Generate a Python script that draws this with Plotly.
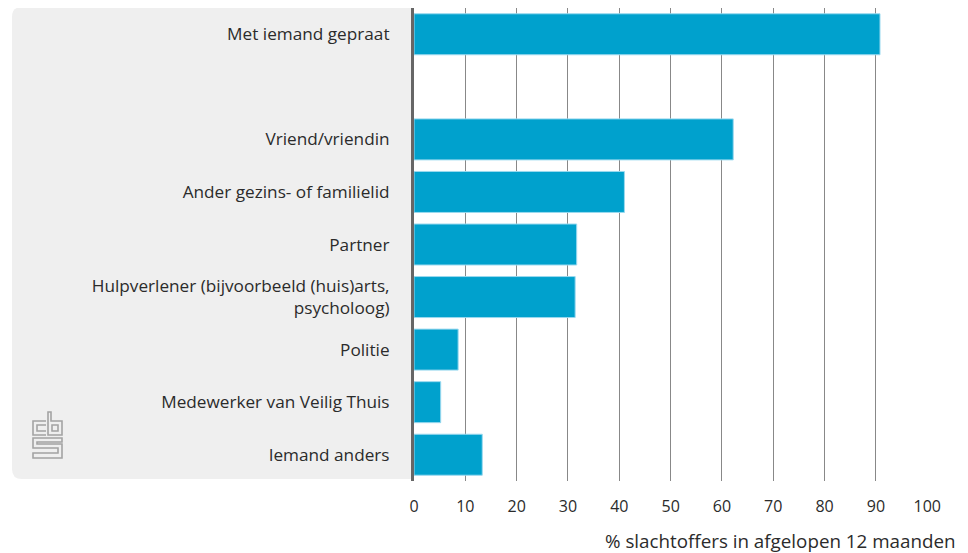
import plotly.graph_objects as go

categories = [
    "Met iemand gepraat",
    " ",
    "Vriend/vriendin",
    "Ander gezins- of familielid",
    "Partner",
    "Hulpverlener (bijvoorbeeld (huis)arts,<br>psycholoog)",
    "Politie",
    "Medewerker van Veilig Thuis",
    "Iemand anders",
]
values = [90.8, None, 62.2, 41.0, 31.7, 31.4, 8.6, 5.2, 13.3]
x_ticks = [0, 10, 20, 30, 40, 50, 60, 70, 80, 90, 100]
x_title = "% slachtoffers in afgelopen 12 maanden"

OFF = 8  # page body margin
W, H = 968 - OFF, 553 - OFF
L, R, T, B = 414 - OFF, 928 - OFF, 8 - OFF, 481 - OFF

def px(x):  # x in page pixels
    return (x - OFF - L) / (R - L)

def py(y):  # y in page pixels
    return (B - (y - OFF)) / (B - T)

FONT = "Open Sans"
TXT = "#2b2b2b"

fig = go.Figure(go.Bar(
    y=categories, x=values, orientation="h",
    marker=dict(color="#00a1cd", line=dict(color="#9bd9ef", width=1)),
    width=0.78, hoverinfo="x+y",
))

shapes = []
r = 10
x0, x1, y0, y1 = 12, 414, 7, 479
panel = (f"M {px(x1)},{py(y0)} L {px(x0 + r)},{py(y0)} "
         f"Q {px(x0)},{py(y0)} {px(x0)},{py(y0 + r)} "
         f"L {px(x0)},{py(y1 - r)} "
         f"Q {px(x0)},{py(y1)} {px(x0 + r)},{py(y1)} "
         f"L {px(x1)},{py(y1)} Z")
shapes.append(dict(type="path", path=panel, xref="paper", yref="paper",
                   fillcolor="#efefef", line=dict(width=0), layer="below"))

def pth(points, close=False):
    s = "M " + " L ".join(f"{px(a)},{py(b)}" for a, b in points)
    return s + (" Z" if close else "")

logo_paths = [
    pth([(46, 421), (33, 421), (33, 435), (46, 435)]),
    pth([(46, 425), (37, 425), (37, 431), (46, 431)]),
    pth([(48, 412), (51, 412), (51, 421), (62, 421), (62, 435), (48, 435)], True),
    pth([(52, 425), (58, 425), (58, 431), (52, 431)], True),
    pth([(62, 438), (33, 438), (33, 448), (58, 448), (58, 453), (33, 453),
         (33, 458), (62, 458), (62, 444), (37, 444), (37, 442), (62, 442)], True),
]
for p in logo_paths:
    shapes.append(dict(type="path", path=p, xref="paper", yref="paper",
                       line=dict(color="#a3a3a3", width=1.6)))

fig.update_layout(
    width=W, height=H,
    margin=dict(l=L, r=W - R, t=T, b=H - B, pad=0),
    paper_bgcolor="white", plot_bgcolor="rgba(0,0,0,0)",
    showlegend=False,
    font=dict(family=FONT, size=16, color=TXT),
    xaxis=dict(
        range=[0, 100.15], tickvals=x_ticks, showgrid=True,
        gridcolor="#888888", gridwidth=1, zeroline=False, showline=False,
        ticks="", ticklabelstandoff=14,
        tickfont=dict(family=FONT, size=16, color=TXT), fixedrange=True,
    ),
    yaxis=dict(
        type="category", categoryorder="array", categoryarray=categories,
        autorange="reversed", showgrid=False, zeroline=False,
        showline=True, linecolor="#666666", linewidth=3,
        ticks="", ticklabelstandoff=18,
        tickfont=dict(family=FONT, size=17.2, color=TXT), fixedrange=True,
    ),
    shapes=shapes,
    annotations=[dict(
        text=x_title, xref="paper", yref="paper", x=px(958), y=py(541),
        xanchor="right", yanchor="middle", showarrow=False,
        font=dict(family=FONT, size=18.8, color=TXT),
    )],
)

fig.write_html("out.html")
